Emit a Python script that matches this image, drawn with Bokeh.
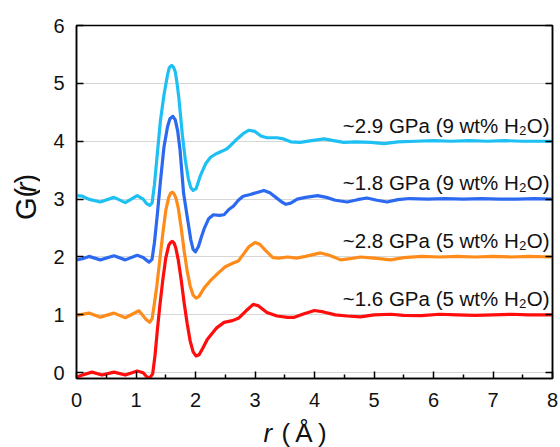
import math
from bokeh.plotting import figure
from bokeh.models import FixedTicker, LinearAxis, Range1d
from bokeh.layouts import column, row
from bokeh.core.properties import value
from bokeh.embed import file_html
from bokeh.resources import INLINE

# ---------------- data ----------------
labels = ["~1.6 GPa (5 wt% H\u2082O)", "~2.8 GPa (5 wt% H\u2082O)",
          "~1.8 GPa (9 wt% H\u2082O)", "~2.9 GPa (9 wt% H\u2082O)"]
offsets = [0, 1, 2, 3]
colors = ["#ff0d0d", "#ff8c1a", "#2b6af0", "#1ec0f3"]

r_red = [0.00, 0.10, 0.26, 0.43, 0.63, 0.82, 1.02, 1.12, 1.18, 1.23, 1.28, 1.32, 1.36, 1.40, 1.45,
         1.50, 1.55, 1.58, 1.61, 1.64, 1.67, 1.71, 1.76, 1.81, 1.86, 1.91, 1.96, 2.01, 2.06, 2.12,
         2.20, 2.35, 2.48, 2.62, 2.72, 2.85, 2.97, 3.05, 3.20, 3.37, 3.55, 3.65, 3.80, 4.00, 4.15,
         4.35, 4.55, 4.77, 5.00, 5.28, 5.50, 5.80, 6.10, 6.40, 6.70, 7.00, 7.30, 7.60, 8.00]
g_red = [-0.08, -0.04, 0.01, -0.04, 0.01, -0.04, 0.03, 0.00, -0.07, -0.09, -0.02, 0.30, 0.75, 1.15, 1.60,
         1.98, 2.20, 2.25, 2.27, 2.24, 2.15, 1.95, 1.60, 1.20, 0.85, 0.55, 0.36, 0.29, 0.31, 0.42,
         0.58, 0.77, 0.87, 0.90, 0.94, 1.07, 1.18, 1.16, 1.04, 0.98, 0.955, 0.955, 1.01, 1.075, 1.05,
         1.00, 0.98, 0.965, 1.00, 1.01, 0.99, 0.985, 1.01, 1.00, 0.99, 1.00, 1.01, 1.00, 1.00]

r_orange = [0.00, 0.21, 0.40, 0.63, 0.82, 1.05, 1.17, 1.23, 1.27, 1.31, 1.35, 1.40, 1.45, 1.50, 1.55,
            1.58, 1.61, 1.64, 1.67, 1.71, 1.76, 1.81, 1.86, 1.91, 1.96, 2.01, 2.06, 2.15, 2.25, 2.38,
            2.50, 2.62, 2.72, 2.80, 2.90, 3.00, 3.08, 3.18, 3.30, 3.40, 3.55, 3.70, 3.85, 4.10, 4.25,
            4.44, 4.60, 4.77, 5.00, 5.28, 5.50, 5.80, 6.10, 6.40, 6.70, 7.00, 7.30, 7.60, 8.00]
g_orange = [0.99, 1.03, 0.96, 1.03, 0.95, 1.07, 0.92, 0.87, 0.93, 1.20, 1.50, 1.95, 2.40, 2.80, 3.03,
            3.10, 3.12, 3.09, 3.02, 2.85, 2.50, 2.10, 1.76, 1.50, 1.34, 1.29, 1.32, 1.47, 1.59, 1.72,
            1.83, 1.89, 1.93, 2.04, 2.18, 2.25, 2.22, 2.11, 1.99, 1.98, 2.00, 1.98, 2.01, 2.07, 2.03,
            1.95, 1.97, 2.00, 1.98, 1.95, 1.99, 2.01, 2.00, 2.01, 2.00, 2.01, 2.00, 2.01, 2.00]

r_blue = [0.00, 0.10, 0.21, 0.40, 0.63, 0.82, 1.02, 1.12, 1.17, 1.22, 1.27, 1.31, 1.36, 1.41, 1.47,
          1.53, 1.57, 1.62, 1.66, 1.70, 1.74, 1.80, 1.86, 1.92, 1.96, 2.00, 2.05, 2.10, 2.15, 2.22,
          2.30, 2.40, 2.48, 2.56, 2.64, 2.72, 2.80, 2.92, 3.05, 3.15, 3.25, 3.35, 3.45, 3.52, 3.60,
          3.71, 3.85, 4.05, 4.20, 4.35, 4.55, 4.72, 4.88, 5.05, 5.22, 5.40, 5.60, 5.90, 6.20, 6.50,
          6.80, 7.10, 7.40, 7.70, 8.00]
g_blue = [1.95, 1.97, 2.01, 1.95, 2.02, 1.95, 2.03, 1.99, 1.95, 1.91, 1.96, 2.25, 2.75, 3.30, 3.90,
          4.25, 4.39, 4.43, 4.37, 4.18, 3.85, 3.10, 2.70, 2.30, 2.13, 2.09, 2.18, 2.35, 2.50, 2.66,
          2.73, 2.72, 2.73, 2.82, 2.88, 2.98, 3.05, 3.08, 3.12, 3.15, 3.11, 3.03, 2.95, 2.91, 2.93,
          3.00, 3.03, 3.06, 3.03, 2.98, 2.95, 2.99, 3.02, 2.98, 2.95, 2.99, 3.01, 3.00, 3.01, 3.00,
          3.01, 3.00, 3.00, 3.01, 3.00]

r_cyan = [0.00, 0.10, 0.20, 0.40, 0.63, 0.82, 1.02, 1.12, 1.18, 1.23, 1.27, 1.31, 1.36, 1.41, 1.47,
          1.53, 1.56, 1.60, 1.63, 1.66, 1.69, 1.72, 1.78, 1.83, 1.88, 1.92, 1.96, 2.01, 2.08, 2.17,
          2.25, 2.34, 2.45, 2.53, 2.62, 2.70, 2.80, 2.90, 3.00, 3.10, 3.20, 3.37, 3.48, 3.60, 3.76,
          3.95, 4.16, 4.32, 4.49, 4.70, 4.95, 5.17, 5.40, 5.70, 6.00, 6.30, 6.60, 6.90, 7.20, 7.50,
          7.80, 8.00]
g_cyan = [3.06, 3.05, 3.00, 2.95, 3.03, 2.94, 3.06, 3.00, 2.92, 2.89, 2.93, 3.25, 3.80, 4.35, 4.80,
          5.15, 5.27, 5.31, 5.28, 5.20, 5.00, 4.75, 4.10, 3.67, 3.35, 3.20, 3.15, 3.18, 3.40, 3.61,
          3.72, 3.78, 3.83, 3.87, 3.96, 4.04, 4.13, 4.19, 4.17, 4.09, 4.06, 4.06, 4.04, 3.99, 3.98,
          4.01, 4.04, 4.01, 3.98, 3.99, 3.98, 3.96, 3.99, 4.00, 4.01, 4.00, 4.01, 4.00, 4.01, 4.00,
          4.00, 4.00]

series_r = [r_red, r_orange, r_blue, r_cyan]
series_g = [g_red, g_orange, g_blue, g_cyan]

x_ticks = [0, 1, 2, 3, 4, 5, 6, 7, 8]
x_minor = [0.5, 1.5, 2.5, 3.5, 4.5, 5.5, 6.5, 7.5]
y_ticks = [0, 1, 2, 3, 4, 5, 6]

FONT = "Liberation Sans"
INK = "#111111"

# ---------------- main plot ----------------
p = figure(width=520, height=412, x_range=Range1d(0, 8), y_range=Range1d(-0.1, 6),
           output_backend="svg", toolbar_location=None,
           min_border_left=36, min_border_right=8, min_border_top=25, min_border_bottom=34)
p.background_fill_color = "white"
p.border_fill_color = "white"
p.outline_line_color = "black"
p.outline_line_width = 1.5

p.xgrid.visible = False
p.ygrid.ticker = FixedTicker(ticks=y_ticks)
p.ygrid.grid_line_color = "#d6d6d6"
p.ygrid.grid_line_width = 1

xa = p.xaxis[0]
xa.ticker = FixedTicker(ticks=x_ticks, minor_ticks=x_minor)
xa.major_tick_in = 7
xa.major_tick_out = 0
xa.minor_tick_in = 4
xa.minor_tick_out = 0
xa.axis_line_width = 1.5
xa.major_tick_line_width = 1.5
xa.minor_tick_line_width = 1.5
xa.major_label_text_font = FONT
xa.major_label_text_font_size = "20px"
xa.major_label_text_color = INK
xa.major_label_standoff = 14

ya = p.yaxis[0]
ya.ticker = FixedTicker(ticks=y_ticks)
ya.major_tick_in = 7
ya.major_tick_out = 0
ya.minor_tick_line_color = None
ya.axis_line_width = 1.5
ya.major_tick_line_width = 1.5
ya.major_label_text_font = FONT
ya.major_label_text_font_size = "20px"
ya.major_label_text_color = INK
ya.major_label_standoff = 12

ra = LinearAxis(ticker=FixedTicker(ticks=y_ticks))
ra.major_tick_in = 7
ra.major_tick_out = 0
ra.minor_tick_line_color = None
ra.axis_line_width = 1.5
ra.major_tick_line_width = 1.5
ra.major_label_overrides = {t: "" for t in y_ticks}
ra.major_label_standoff = 0
p.add_layout(ra, "right")

for rr, gg, c in zip(series_r, series_g, colors):
    p.line(rr, gg, line_color=c, line_width=3.2, line_join="round", line_cap="round")

p.text(x=[7.95] * 4, y=[o + 1.28 for o in offsets], text=labels,
       text_align="right", text_baseline="middle",
       text_font=value(FONT), text_font_size="20.5px", text_color=INK)

# ---------------- y-axis title panel: G(r) with italic r ----------------
yl = figure(width=40, height=412, x_range=Range1d(0, 40), y_range=Range1d(0, 412),
            output_backend="svg", toolbar_location=None, min_border=0,
            x_axis_type=None, y_axis_type=None)
yl.grid.visible = False
yl.outline_line_color = None
yl.text(x=[25, 25, 25], y=[185, 217.5, 227.5], text=["G(", "r", ")"],
        angle=math.pi / 2, text_align="left", text_baseline="middle",
        text_font=value(FONT), text_font_size="29px",
        text_font_style=["normal", "italic", "normal"], text_color=INK)

# ---------------- x-axis title panel: r (Å) ----------------
xl = figure(width=560, height=35, x_range=Range1d(0, 560), y_range=Range1d(0, 35),
            output_backend="svg", toolbar_location=None, min_border=0,
            x_axis_type=None, y_axis_type=None)
xl.grid.visible = False
xl.outline_line_color = None
xl.text(x=[263, 281], y=[14.5, 14.5], text=["r", "(\u2009\u00c5\u2009)"],
        text_align="left", text_baseline="middle",
        text_font=value(FONT), text_font_size="26px",
        text_font_style=["italic", "normal"], text_color=INK)

layout = column(row(yl, p), xl)
open("out.html", "w").write(file_html(layout, INLINE))
